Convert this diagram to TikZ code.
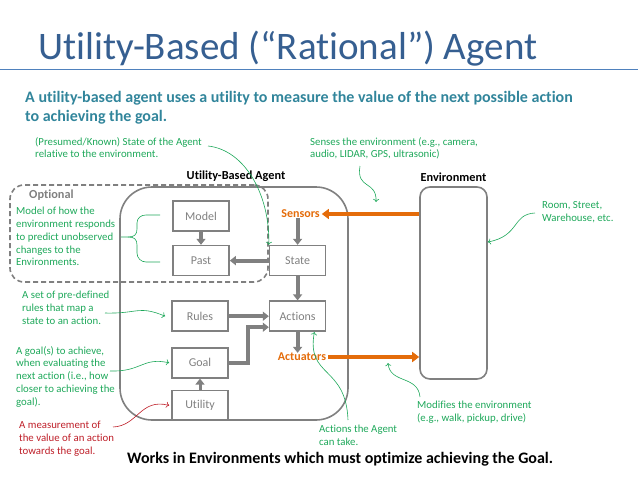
\documentclass[tikz,border=0pt]{standalone}
\usepackage{fontspec}
\setmainfont{Carlito}[Ligatures=NoCommon]
\usetikzlibrary{positioning,arrows.meta}
\definecolor{titleblue}{RGB}{54,95,145}
\definecolor{rulerblue}{RGB}{79,129,189}
\definecolor{subteal}{RGB}{49,133,155}
\definecolor{notegreen}{RGB}{30,168,90}
\definecolor{notered}{RGB}{190,30,40}
\definecolor{actorange}{RGB}{228,108,10}
\definecolor{boxgray}{RGB}{128,128,128}

\begin{document}
\begin{tikzpicture}[x=1pt, y=-1pt,
        partbox/.style={rectangle, draw=boxgray, line width=1.6pt, minimum width=56pt, minimum height=30pt, text=boxgray, font=\fontsize{12}{13}\selectfont},
        note/.style={anchor=north west, align=left, inner sep=0pt, text=notegreen, font=\fontsize{10.8}{12.8}\selectfont},
        heading/.style={inner sep=0pt, font=\bfseries\fontsize{12.3}{14}\selectfont},
        port/.style={inner sep=0pt, text=actorange, font=\bfseries\fontsize{12}{13}\selectfont},
        flow/.style={draw=boxgray, line width=4pt, -{Triangle[length=6pt,width=9pt]}},
        io/.style={draw=actorange, line width=4pt, -{Triangle[length=7pt,width=10pt]}},
        pointer/.style={draw=notegreen, line width=0.6pt, -{To[length=3pt,width=6pt]}}]
        \useasboundingbox (0,0) rectangle (638,479);
        % title and intro
        \node[anchor=base west, inner sep=0pt, text=titleblue, font=\fontsize{39}{42}\selectfont] (title) at (38,59) {Utility-Based (“Rational”) Agent};
        \draw[rulerblue, line width=1pt] (0,69) -- (638,69);
        \node[anchor=north west, align=left, inner sep=0pt, text=subteal, font=\bfseries\fontsize{16}{19.5}\selectfont] (intro) at (25,91) {A utility-based agent uses a utility to measure the value of the next possible action\\to achieving the goal.};
        % frames
        \node[draw=boxgray, line width=1.6pt, rounded corners=32pt, minimum width=228pt, minimum height=233pt] (agent) at (234,303.5) {};
        \node[draw=boxgray, line width=1.6pt, dashed, dash pattern=on 5pt off 3pt, rounded corners=14pt, minimum width=258pt, minimum height=97pt] (optional) at (139,233.5) {};
        \node[draw=boxgray, line width=1.6pt, rounded corners=10pt, minimum width=67pt, minimum height=192pt] (env) at (453.5,283) {};
        \node[heading] (agentlabel) at (236,176) {Utility-Based Agent};
        \node[heading] (envlabel) at (453.5,177) {Environment};
        \node[heading, text=boxgray, anchor=west] (optlabel) at (29,195) {Optional};
        % parts of the agent
        \node[partbox] (model) at (201,216) {Model};
        \node[partbox] (past) [below=13pt of model] {Past};
        \node[partbox] (state) [right=39pt of past] {State};
        \node[partbox] (actions) [below=24pt of state] {Actions};
        \node[partbox] (rules) [left=40pt of actions] {Rules};
        \node[partbox] (goal) [below=15pt of rules] {Goal};
        \node[partbox] (utility) [below=11pt of goal] {Utility};
        \node[port] (sensors) at (300.5,214) {Sensors};
        \node[port] (actuators) at (302,357) {Actuators};
        % flows
        \draw[flow] (sensors.south -| state.north) -- (state.north);
        \draw[flow] (model.south) -- (past.north);
        \draw[flow] (state.west) -- (past.east);
        \draw[flow] (state.south) -- (actions.north);
        \draw[flow] (rules.east) -- (rules.east -| actions.west);
        \draw[flow] (goal.east) -- ++(19,0) |- ([yshift=-11pt]actions.west);
        \draw[flow] (actions.south) -- (actions.south |- actuators.north);
        \draw[flow, line width=3pt] (utility.north) -- (goal.south);
        \draw[io] (env.west |- sensors.east) -- ([xshift=2pt]sensors.east);
        \draw[io] ([xshift=2pt]actuators.east) -- (actuators.east -| env.west);
        % notes
        \node[note] (presumed) at (35,137) {(Presumed/Known) State of the Agent\\relative to the environment.};
        \node[note] (senses) at (310,137) {Senses the environment (e.g., camera,\\audio, LIDAR, GPS, ultrasonic)};
        \node[note] (modelnote) at (16,207) {Model of how the\\environment responds\\to predict unobserved\\changes to the\\Environments.};
        \node[note] (rulesnote) at (22,291) {A set of pre-defined\\rules that map a\\state to an action.};
        \node[note] (goalnote) at (16,346) {A goal(s) to achieve,\\when evaluating the\\next action (i.e., how\\closer to achieving the\\goal).};
        \node[note, text=notered] (measurenote) at (19,421) {A measurement of\\the value of an action\\towards the goal.};
        \node[note] (roomnote) at (542,201) {Room, Street,\\Warehouse, etc.};
        \node[note] (modifynote) at (417,401) {Modifies the environment\\(e.g., walk, pickup, drive)};
        \node[note] (actionsnote) at (319,425) {Actions the Agent\\can take.};
        \node[note, font=\bfseries\fontsize{16}{18}\selectfont, text=black, anchor=base west] (closing) at (127,463) {Works in Environments which must optimize achieving the Goal.};
        % pointers
        \coordinate (presumedtail) at (208,146);
        \coordinate (sensestail) at (360,166);
        \coordinate (roomtail) at (535,213);
        \coordinate (modifytail) at (420,397);
        \coordinate (actionstail) at (348,420);
        \coordinate (rulestail) at (105,313);
        \coordinate (goaltail) at (110,371);
        \coordinate (measuretail) at (113,427);
        \coordinate (bracemid) at (121,237);
        \draw[pointer] (presumedtail) .. controls (245,150) and (270,195) .. (state.north west);
        \draw[pointer] (sensestail) .. controls (356,190) and (377,180) .. (376,202);
        \draw[pointer] (roomtail) .. controls (512,214) and (520,236) .. (env.east |- 0,242);
        \draw[pointer] (modifytail) .. controls (418,375) and (390,384) .. (388,363);
        \draw[pointer] (actionstail) .. controls (346,365) and (306,378) .. ([xshift=-12pt]actions.south east);
        \draw[pointer] (rulestail) .. controls (138,314) and (138,305) .. ([xshift=-6pt]rules.west);
        \draw[pointer] (goaltail) .. controls (142,372) and (142,357) .. ([xshift=-2pt]goal.west);
        \draw[pointer, draw=notered] (measuretail) .. controls (138,426) and (140,398) .. ([xshift=-2pt]utility.west);
        \draw[notegreen, line width=0.6pt] (bracemid) -- ++(7,0) .. controls ++(6,0) and ++(0,6) .. ++(9,-8) -- ++(0,-6) .. controls ++(0,-5) and ++(-5,0) .. ++(9,-8) -- ++(14,0);
        \draw[notegreen, line width=0.6pt] ([xshift=7pt]bracemid) .. controls ++(6,0) and ++(0,-6) .. ++(9,8) -- ++(0,8) .. controls ++(0,5) and ++(-5,0) .. ++(9,9) -- ++(14,0);
\end{tikzpicture}
\end{document}
